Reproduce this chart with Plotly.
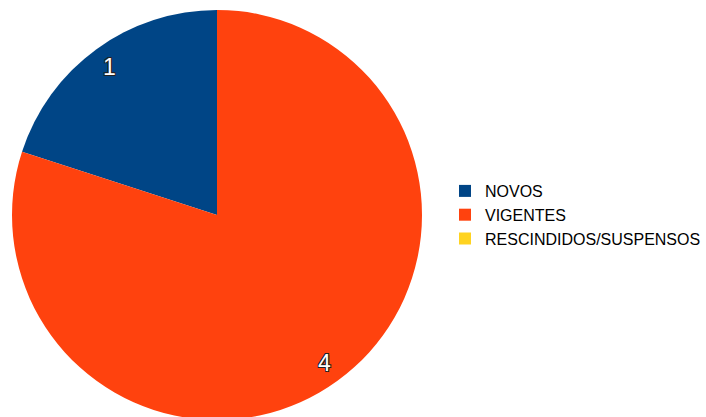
import math
import plotly.graph_objects as go

labels = ["NOVOS", "VIGENTES", "RESCINDIDOS/SUSPENSOS"]
values = [1, 4, 0]
colors = ["#004586", "#ff420e", "#ffd320"]

W, H = 706, 421   # a little taller than the window: the pie's bottom runs off the page
dom_x = [12 / W, 422 / W]
dom_y = [1 - 420 / H, 1 - 10 / H]

total = sum(values)
# first slice ends at 12 o'clock, following slices run counterclockwise
rot = -360.0 * values[0] / total

fig = go.Figure(go.Pie(
    labels=labels, values=values, sort=False,
    direction="clockwise", rotation=rot,
    marker=dict(colors=colors, line=dict(width=0)),
    textinfo="none", hoverinfo="label+value",
    domain=dict(x=dom_x, y=dom_y),
))

# label positions from data values
cx = (dom_x[0] + dom_x[1]) / 2 * W
cy_top = (1 - (dom_y[0] + dom_y[1]) / 2) * H
r = min((dom_x[1] - dom_x[0]) * W, (dom_y[1] - dom_y[0]) * H) / 2
cum = 0
outline = "-1px -1px 0 #222, 1px -1px 0 #222, -1px 1px 0 #222, 1px 1px 0 #222"
for v in values:
    if v > 0:
        mid = (cum + v / 2) / total * 2 * math.pi
        px = cx - 0.89 * r * math.sin(mid)
        py = cy_top - 0.89 * r * math.cos(mid)
        fig.add_annotation(x=px / W, y=1 - py / H, xref="paper", yref="paper",
                           xanchor="center", yanchor="middle",
                           text=str(v), showarrow=False,
                           font=dict(family="Liberation Sans", size=23, color="white",
                                     shadow=outline))
    cum += v

fig.update_layout(
    width=W, height=H,
    margin=dict(l=0, r=0, t=0, b=0),
    paper_bgcolor="white", plot_bgcolor="white",
    font=dict(family="Liberation Sans", size=16, color="#000"),
    legend=dict(x=(486 - 41) / W, xanchor="left",
                y=1 - 215 / H, yanchor="middle",
                font=dict(family="Liberation Sans", size=16, color="#000"),
                bgcolor="rgba(0,0,0,0)"),
    showlegend=True,
)

fig.write_html(
    "out.html",
    config={"displayModeBar": False},
    post_script="document.body.style.margin='0';document.body.style.overflow='hidden';",
)
